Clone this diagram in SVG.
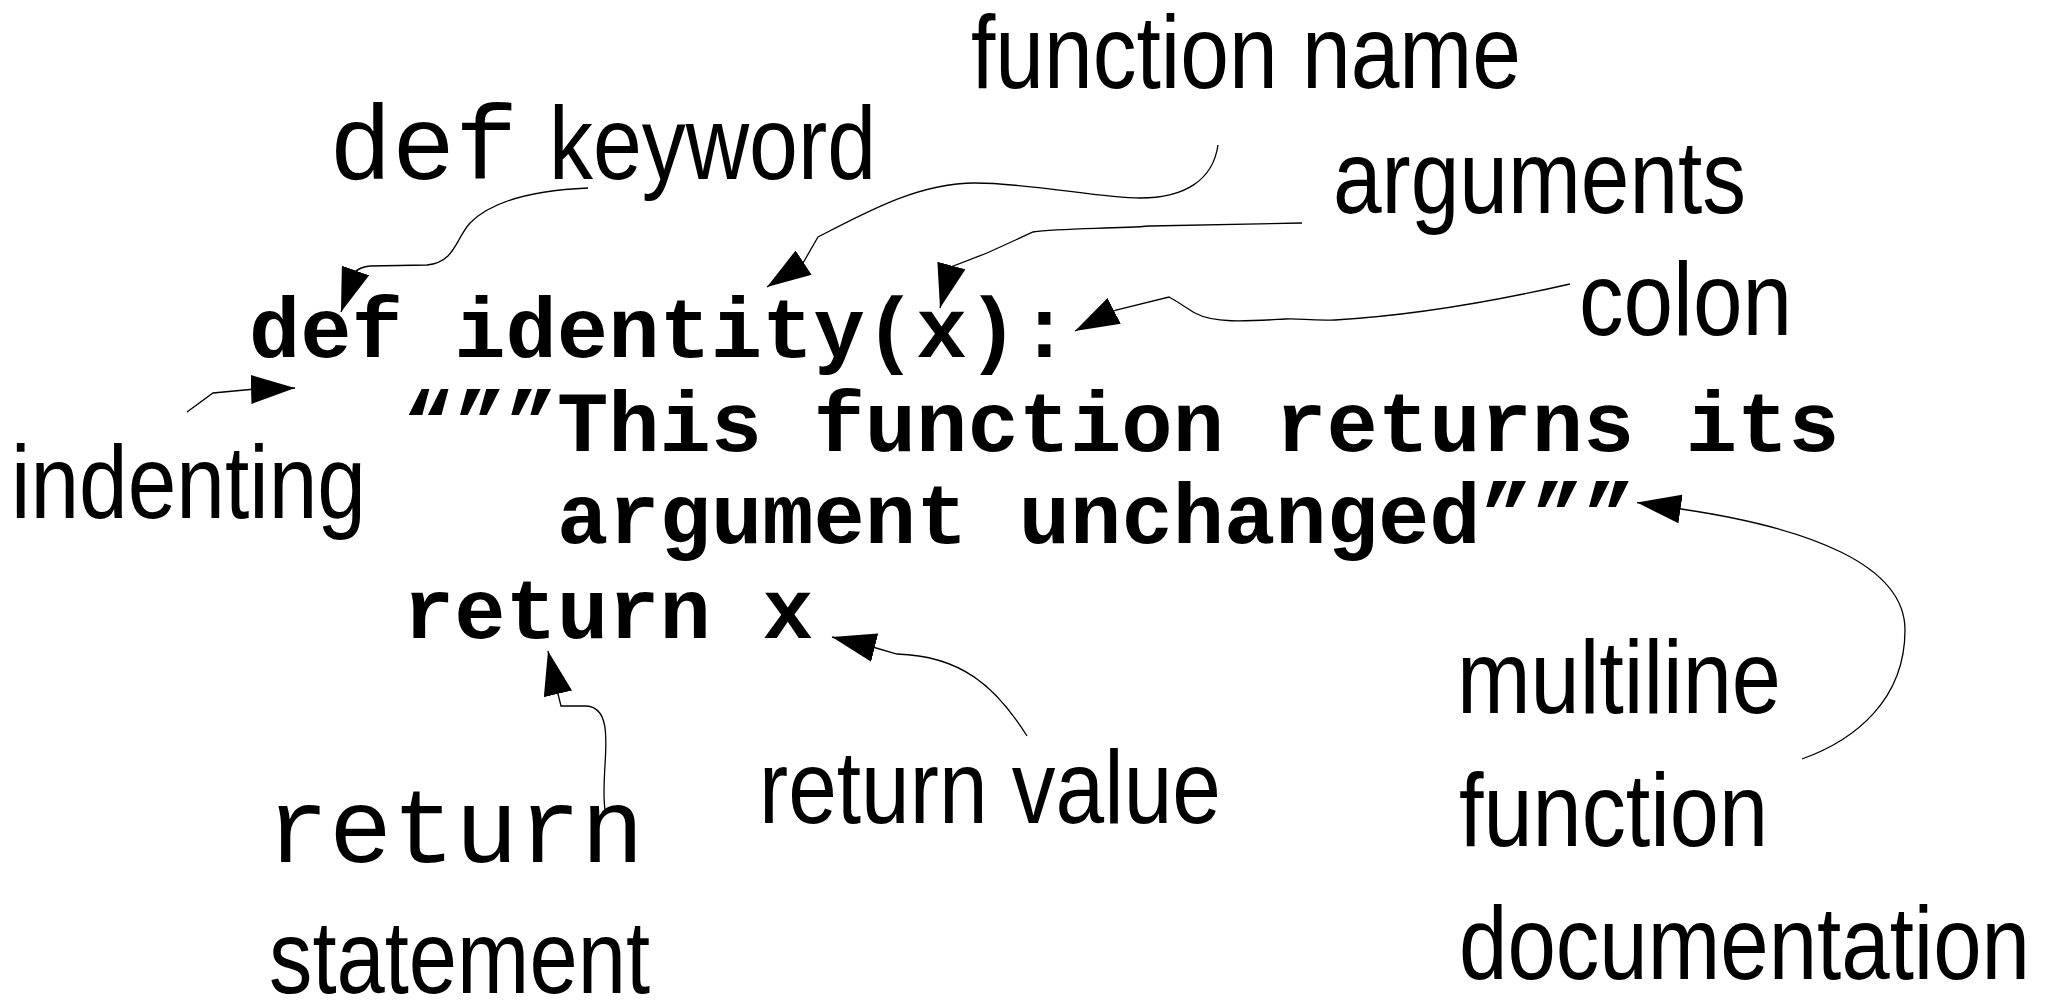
<svg xmlns="http://www.w3.org/2000/svg" width="2050" height="1000" viewBox="0 0 2050 1000">
<style>
.lbl{font-family:"Liberation Sans",Arial,sans-serif;font-size:104px;fill:#000}
.mono{font-family:"Liberation Mono","Courier New",monospace;font-size:105px;fill:#000}
.code{font-family:"Liberation Mono","Courier New",monospace;font-size:85.5px;font-weight:bold;fill:#000}
.conn{fill:none;stroke:#000;stroke-width:1.3;marker-end:url(#ah)}
</style>
<defs>
<marker id="ah" markerUnits="userSpaceOnUse" viewBox="0 0 44 29" refX="44" refY="14.5" markerWidth="44" markerHeight="29" orient="auto">
<path d="M0,0 L44,14.5 L0,29 z" fill="#000"/>
</marker>
</defs>
<rect width="2050" height="1000" fill="#fff"/>
<g id="code">
<text class="code" x="249" y="357">def identity(x):</text>
<text class="code" x="403" y="451">“””This function returns its</text>
<text class="code" x="557" y="543">argument unchanged”””</text>
<text class="code" x="403" y="638">return x</text>
</g>
<g id="label-function-name"><text class="lbl" x="971" y="88" textLength="550" lengthAdjust="spacingAndGlyphs">function name</text></g>
<g id="label-def-keyword"><text class="mono" x="329" y="179">def</text><text class="lbl" x="549" y="179" textLength="327" lengthAdjust="spacingAndGlyphs">keyword</text></g>
<g id="label-arguments"><text class="lbl" x="1333" y="213" textLength="413" lengthAdjust="spacingAndGlyphs">arguments</text></g>
<g id="label-colon"><text class="lbl" x="1579" y="335" textLength="213" lengthAdjust="spacingAndGlyphs">colon</text></g>
<g id="label-indenting"><text class="lbl" x="11" y="518" textLength="355" lengthAdjust="spacingAndGlyphs">indenting</text></g>
<g id="label-return-value"><text class="lbl" x="759" y="823" textLength="462" lengthAdjust="spacingAndGlyphs">return value</text></g>
<g id="label-return-statement"><text class="mono" x="266" y="862" font-size="107">return</text><text class="lbl" x="269" y="993" textLength="381" lengthAdjust="spacingAndGlyphs">statement</text></g>
<g id="label-multiline"><text class="lbl" x="1457" y="713" textLength="324" lengthAdjust="spacingAndGlyphs">multiline</text><text class="lbl" x="1459" y="846" textLength="309" lengthAdjust="spacingAndGlyphs">function</text><text class="lbl" x="1459" y="979" textLength="571" lengthAdjust="spacingAndGlyphs">documentation</text></g>
<g id="connectors">
<path class="conn" d="M588,188 C540,190 495,198 470,223 C455,240 455,262 427,265 L370,266 Q360,267 355,272 L341,312"/>
<path class="conn" d="M1218,145 C1213,180 1185,198 1140,198 C1100,198 1030,183 975,183 C920,183 870,210 818,237 L803,263 L767,287"/>
<path class="conn" d="M1302,223 L1150,226 C1110,229 1060,228 1033,232 L987,253 L951,267 L940,308"/>
<path class="conn" d="M1570,284 C1500,300 1420,315 1335,320 C1310,321 1300,318 1285,319 C1250,321 1215,324 1195,313 C1185,307 1175,300 1169,297 L1116,310 L1075,331"/>
<path class="conn" d="M187,412 L213,393 L250,389.5 L295,388"/>
<path class="conn" d="M605,810 C603,795 604,785 605,765 C607,735 608,706 585,706 L561,706 L558,694 L548,651"/>
<path class="conn" d="M1027,736 C995,685 960,656 897,654 L876,648 L832,637"/>
<path class="conn" d="M1802,759 C1855,740 1905,700 1905,630 C1905,565 1810,528 1681,509 L1637,502.6"/>
</g>
</svg>
